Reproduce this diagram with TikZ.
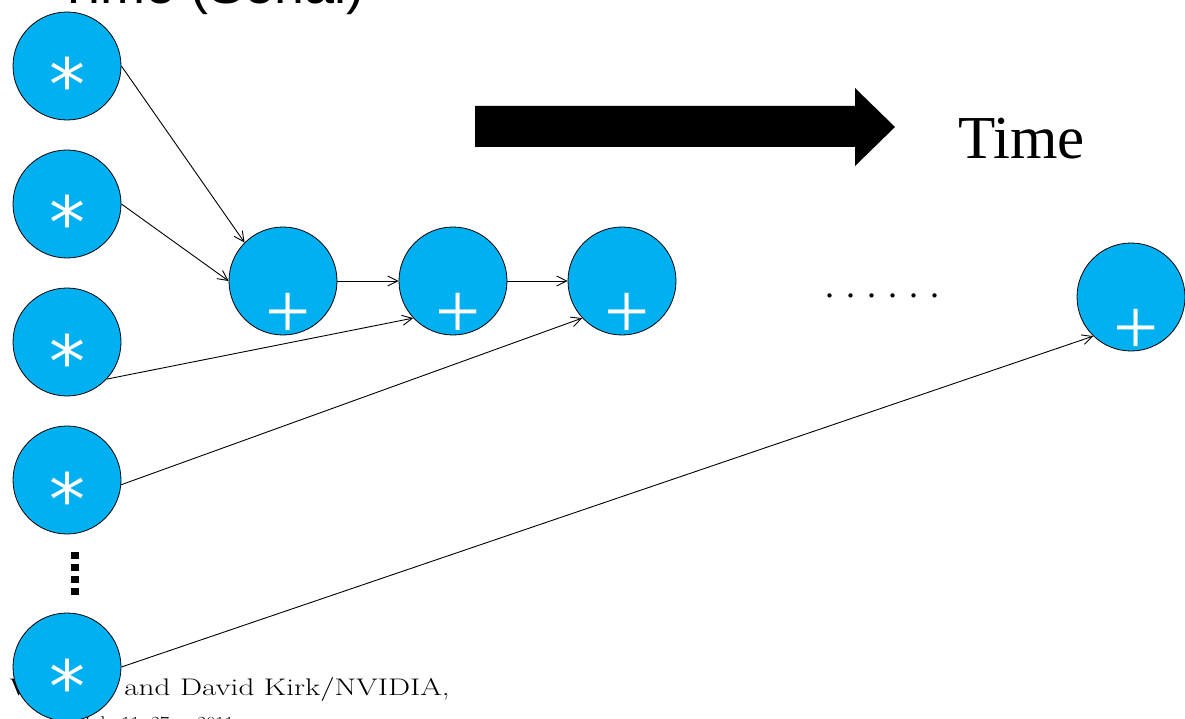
\documentclass[tikz,border=0pt]{standalone}
\usepackage{fontspec}
\usepackage{tikz}
\usetikzlibrary{arrows, arrows.meta, positioning, calc}
\newfontfamily\serifT{Liberation Serif}
\newfontfamily\sansT{Liberation Sans}
\newfontfamily\symT{DejaVu Sans}
\definecolor{opblue}{RGB}{0,176,240}
\tikzstyle{arrow} = [line width=0.9pt,-{Straight Barb[length=10pt,width=10pt]}]

\begin{document}
\begin{tikzpicture}[x=1pt, y=-1pt,
    opnode/.style={circle, draw, line width=0.8pt, fill=opblue, minimum size=108pt, inner sep=0pt},
    mulsign/.style={text=white, font=\symT\fontsize{72}{72}\selectfont, inner sep=0pt, anchor=base},
    addsign/.style={text=white, font=\serifT\fontsize{80}{80}\selectfont, inner sep=0pt, anchor=base}]
    \useasboundingbox (0,0) rectangle (1185,719);
    % footer and title, cut by the page edge
    \node[font=\fontsize{24}{24}\selectfont, anchor=base east, inner sep=0pt] (credit) at (450,695)
        {\scalebox{1.3}[1]{\copyright{} Wen-mei W. Hwu and David Kirk/NVIDIA,}};
    \node[font=\fontsize{20}{20}\selectfont, anchor=base east, inner sep=0pt] (dates) at (234,730)
        {July 11, 27 \,--\, 2011};
    \node[font=\sansT\fontsize{54}{54}\selectfont, anchor=base west, inner sep=0pt] (title) at (57,4)
        {Time (Serial)};
    % products
    \node[opnode] (m1) at (67,66) {};
    \node[opnode] (m2) at (67,204) {};
    \node[opnode] (m3) at (67,342) {};
    \node[opnode] (m4) at (67,480) {};
    \node[opnode] (m5) at (67,667) {};
    % sums
    \node[opnode] (a1) at (283,281) {};
    \node[opnode] (a2) at (453,281) {};
    \node[opnode] (a3) at (622,281) {};
    \node[opnode] (a4) at (1131,297) {};
    \foreach \n in {m1,m2,m3,m4,m5}
        \node[mulsign] (\n s) at ([yshift=-45pt]\n.center) {*};
    \foreach \n in {a1,a2,a3,a4}
        \node[addsign] (\n s) at ([shift={(5,57)}]\n.center) {+};
    % edges
    \draw[arrow] (m1.east) -- (a1.135);
    \draw[arrow] (m2.east) -- (a1.west);
    \draw[arrow] (a1.east) -- (a2.west);
    \draw[arrow] (a2.east) -- (a3.west);
    \draw[arrow] (m3.-43) -- (a2.223);
    \draw[arrow] (m4.-5) -- (a3.223);
    \draw[arrow] (m5.east) -- (a4.226);
    \draw[line width=8pt, dash pattern=on 7pt off 5pt] (75,552) -- (75,598);
    % time arrow
    \fill (475,106) -- (855,106) -- (855,88) -- (895,127) -- (855,166) -- (855,147) -- (475,147) -- cycle;
    \node[font=\serifT\fontsize{61}{61}\selectfont, anchor=base west, inner sep=0pt] (time) at (958,159) {Time};
    \node[font=\serifT\fontsize{36}{36}\selectfont, anchor=base west, inner sep=0pt] (gap) at (825,297) {. . . . . .};
\end{tikzpicture}
\end{document}
